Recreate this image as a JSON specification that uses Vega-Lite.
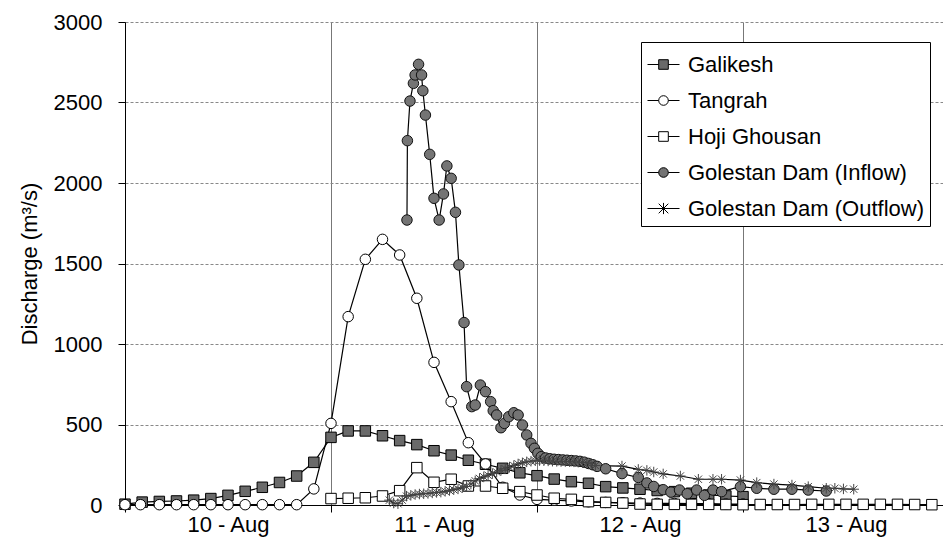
{
  "$schema": "https://vega.github.io/schema/vega-lite/v6.json",
  "width": 818,
  "height": 483,
  "autosize": {"type": "none"},
  "padding": {"left": 125, "top": 22, "right": 0, "bottom": 35},
  "background": "#ffffff",
  "config": {
    "font": "Liberation Sans",
    "view": {"stroke": null},
    "axis": {"labelFont": "Liberation Sans", "titleFont": "Liberation Sans", "labelColor": "#000", "titleColor": "#000"}
  },
  "data": {
    "values": [
      {"s": "Galikesh", "h": 0, "v": 5}, {"s": "Galikesh", "h": 2, "v": 18}, {"s": "Galikesh", "h": 4, "v": 22}, {"s": "Galikesh", "h": 6, "v": 25},
      {"s": "Galikesh", "h": 8, "v": 30}, {"s": "Galikesh", "h": 10, "v": 40}, {"s": "Galikesh", "h": 12, "v": 60}, {"s": "Galikesh", "h": 14, "v": 85},
      {"s": "Galikesh", "h": 16, "v": 110}, {"s": "Galikesh", "h": 18, "v": 140}, {"s": "Galikesh", "h": 20, "v": 180}, {"s": "Galikesh", "h": 22, "v": 265},
      {"s": "Galikesh", "h": 24, "v": 420}, {"s": "Galikesh", "h": 26, "v": 460}, {"s": "Galikesh", "h": 28, "v": 460}, {"s": "Galikesh", "h": 30, "v": 430},
      {"s": "Galikesh", "h": 32, "v": 400}, {"s": "Galikesh", "h": 34, "v": 375}, {"s": "Galikesh", "h": 36, "v": 337}, {"s": "Galikesh", "h": 38, "v": 310},
      {"s": "Galikesh", "h": 40, "v": 278}, {"s": "Galikesh", "h": 42, "v": 253}, {"s": "Galikesh", "h": 44, "v": 228}, {"s": "Galikesh", "h": 46, "v": 200},
      {"s": "Galikesh", "h": 48, "v": 182}, {"s": "Galikesh", "h": 50, "v": 161}, {"s": "Galikesh", "h": 52, "v": 145}, {"s": "Galikesh", "h": 54, "v": 135},
      {"s": "Galikesh", "h": 56, "v": 114}, {"s": "Galikesh", "h": 58, "v": 106}, {"s": "Galikesh", "h": 60, "v": 98}, {"s": "Galikesh", "h": 62, "v": 90},
      {"s": "Galikesh", "h": 64, "v": 83}, {"s": "Galikesh", "h": 66, "v": 73}, {"s": "Galikesh", "h": 68, "v": 62}, {"s": "Galikesh", "h": 70, "v": 56},
      {"s": "Galikesh", "h": 72, "v": 52},

      {"s": "Tangrah", "h": 0, "v": 2}, {"s": "Tangrah", "h": 1.8, "v": 2}, {"s": "Tangrah", "h": 4, "v": 2}, {"s": "Tangrah", "h": 6, "v": 2},
      {"s": "Tangrah", "h": 8, "v": 2}, {"s": "Tangrah", "h": 10, "v": 2}, {"s": "Tangrah", "h": 12, "v": 2}, {"s": "Tangrah", "h": 14, "v": 2},
      {"s": "Tangrah", "h": 16, "v": 2}, {"s": "Tangrah", "h": 18, "v": 2}, {"s": "Tangrah", "h": 20, "v": 2}, {"s": "Tangrah", "h": 22, "v": 100},
      {"s": "Tangrah", "h": 24, "v": 507}, {"s": "Tangrah", "h": 26, "v": 1170}, {"s": "Tangrah", "h": 28, "v": 1526}, {"s": "Tangrah", "h": 30, "v": 1650},
      {"s": "Tangrah", "h": 32, "v": 1553}, {"s": "Tangrah", "h": 34, "v": 1284}, {"s": "Tangrah", "h": 36, "v": 886}, {"s": "Tangrah", "h": 38, "v": 642},
      {"s": "Tangrah", "h": 40, "v": 387}, {"s": "Tangrah", "h": 42, "v": 255}, {"s": "Tangrah", "h": 44, "v": 110}, {"s": "Tangrah", "h": 46, "v": 62},
      {"s": "Tangrah", "h": 48, "v": 35}, {"s": "Tangrah", "h": 50, "v": 30}, {"s": "Tangrah", "h": 52, "v": 25}, {"s": "Tangrah", "h": 54, "v": 20},
      {"s": "Tangrah", "h": 56, "v": 16}, {"s": "Tangrah", "h": 58, "v": 14}, {"s": "Tangrah", "h": 60, "v": 12}, {"s": "Tangrah", "h": 62, "v": 10},
      {"s": "Tangrah", "h": 64, "v": 10}, {"s": "Tangrah", "h": 66, "v": 8}, {"s": "Tangrah", "h": 68, "v": 8}, {"s": "Tangrah", "h": 70, "v": 6},
      {"s": "Tangrah", "h": 72, "v": 6},

      {"s": "Hoji Ghousan", "h": 24, "v": 40}, {"s": "Hoji Ghousan", "h": 26, "v": 42}, {"s": "Hoji Ghousan", "h": 28, "v": 45}, {"s": "Hoji Ghousan", "h": 30, "v": 56},
      {"s": "Hoji Ghousan", "h": 32, "v": 89}, {"s": "Hoji Ghousan", "h": 34, "v": 232}, {"s": "Hoji Ghousan", "h": 36, "v": 141}, {"s": "Hoji Ghousan", "h": 38, "v": 160},
      {"s": "Hoji Ghousan", "h": 40, "v": 118}, {"s": "Hoji Ghousan", "h": 42, "v": 118}, {"s": "Hoji Ghousan", "h": 44, "v": 104}, {"s": "Hoji Ghousan", "h": 46, "v": 83},
      {"s": "Hoji Ghousan", "h": 48, "v": 62}, {"s": "Hoji Ghousan", "h": 50, "v": 42}, {"s": "Hoji Ghousan", "h": 52, "v": 35}, {"s": "Hoji Ghousan", "h": 54, "v": 21},
      {"s": "Hoji Ghousan", "h": 56, "v": 16}, {"s": "Hoji Ghousan", "h": 58, "v": 12}, {"s": "Hoji Ghousan", "h": 60, "v": 6}, {"s": "Hoji Ghousan", "h": 62, "v": 4},
      {"s": "Hoji Ghousan", "h": 64, "v": 4}, {"s": "Hoji Ghousan", "h": 66, "v": 4}, {"s": "Hoji Ghousan", "h": 68, "v": 4}, {"s": "Hoji Ghousan", "h": 70, "v": 3},
      {"s": "Hoji Ghousan", "h": 72, "v": 2}, {"s": "Hoji Ghousan", "h": 74, "v": 3}, {"s": "Hoji Ghousan", "h": 76, "v": 3}, {"s": "Hoji Ghousan", "h": 78, "v": 3},
      {"s": "Hoji Ghousan", "h": 80, "v": 4}, {"s": "Hoji Ghousan", "h": 82, "v": 4}, {"s": "Hoji Ghousan", "h": 84, "v": 4}, {"s": "Hoji Ghousan", "h": 86, "v": 4},
      {"s": "Hoji Ghousan", "h": 88, "v": 4}, {"s": "Hoji Ghousan", "h": 90, "v": 4}, {"s": "Hoji Ghousan", "h": 92, "v": 3}, {"s": "Hoji Ghousan", "h": 94, "v": 2},

      {"s": "Golestan Dam (Inflow)", "h": 32.85, "v": 1770}, {"s": "Golestan Dam (Inflow)", "h": 32.9, "v": 2263}, {"s": "Golestan Dam (Inflow)", "h": 33.2, "v": 2509},
      {"s": "Golestan Dam (Inflow)", "h": 33.6, "v": 2619}, {"s": "Golestan Dam (Inflow)", "h": 33.8, "v": 2671}, {"s": "Golestan Dam (Inflow)", "h": 34.2, "v": 2737},
      {"s": "Golestan Dam (Inflow)", "h": 34.55, "v": 2671}, {"s": "Golestan Dam (Inflow)", "h": 34.7, "v": 2573}, {"s": "Golestan Dam (Inflow)", "h": 35, "v": 2422},
      {"s": "Golestan Dam (Inflow)", "h": 35.5, "v": 2178}, {"s": "Golestan Dam (Inflow)", "h": 36, "v": 1905}, {"s": "Golestan Dam (Inflow)", "h": 36.6, "v": 1770},
      {"s": "Golestan Dam (Inflow)", "h": 37.1, "v": 1932}, {"s": "Golestan Dam (Inflow)", "h": 37.5, "v": 2106}, {"s": "Golestan Dam (Inflow)", "h": 38, "v": 2029},
      {"s": "Golestan Dam (Inflow)", "h": 38.5, "v": 1818}, {"s": "Golestan Dam (Inflow)", "h": 38.9, "v": 1491}, {"s": "Golestan Dam (Inflow)", "h": 39.5, "v": 1133},
      {"s": "Golestan Dam (Inflow)", "h": 39.8, "v": 735}, {"s": "Golestan Dam (Inflow)", "h": 40.4, "v": 611}, {"s": "Golestan Dam (Inflow)", "h": 40.8, "v": 621},
      {"s": "Golestan Dam (Inflow)", "h": 41.4, "v": 745}, {"s": "Golestan Dam (Inflow)", "h": 42, "v": 704}, {"s": "Golestan Dam (Inflow)", "h": 42.6, "v": 642},
      {"s": "Golestan Dam (Inflow)", "h": 42.9, "v": 586}, {"s": "Golestan Dam (Inflow)", "h": 43.3, "v": 559}, {"s": "Golestan Dam (Inflow)", "h": 43.8, "v": 480},
      {"s": "Golestan Dam (Inflow)", "h": 44.2, "v": 507}, {"s": "Golestan Dam (Inflow)", "h": 44.7, "v": 548}, {"s": "Golestan Dam (Inflow)", "h": 45.3, "v": 573},
      {"s": "Golestan Dam (Inflow)", "h": 45.8, "v": 559}, {"s": "Golestan Dam (Inflow)", "h": 46.3, "v": 497}, {"s": "Golestan Dam (Inflow)", "h": 46.8, "v": 435},
      {"s": "Golestan Dam (Inflow)", "h": 47.3, "v": 383}, {"s": "Golestan Dam (Inflow)", "h": 47.7, "v": 352}, {"s": "Golestan Dam (Inflow)", "h": 48.1, "v": 321},
      {"s": "Golestan Dam (Inflow)", "h": 48.5, "v": 300}, {"s": "Golestan Dam (Inflow)", "h": 49, "v": 292}, {"s": "Golestan Dam (Inflow)", "h": 49.5, "v": 287},
      {"s": "Golestan Dam (Inflow)", "h": 50, "v": 284}, {"s": "Golestan Dam (Inflow)", "h": 50.5, "v": 282}, {"s": "Golestan Dam (Inflow)", "h": 51, "v": 280},
      {"s": "Golestan Dam (Inflow)", "h": 51.5, "v": 278}, {"s": "Golestan Dam (Inflow)", "h": 52, "v": 276}, {"s": "Golestan Dam (Inflow)", "h": 52.5, "v": 274},
      {"s": "Golestan Dam (Inflow)", "h": 53, "v": 271}, {"s": "Golestan Dam (Inflow)", "h": 53.5, "v": 266}, {"s": "Golestan Dam (Inflow)", "h": 54, "v": 258},
      {"s": "Golestan Dam (Inflow)", "h": 54.5, "v": 250}, {"s": "Golestan Dam (Inflow)", "h": 55, "v": 240}, {"s": "Golestan Dam (Inflow)", "h": 56, "v": 225},
      {"s": "Golestan Dam (Inflow)", "h": 57.9, "v": 195}, {"s": "Golestan Dam (Inflow)", "h": 59.8, "v": 171}, {"s": "Golestan Dam (Inflow)", "h": 60.8, "v": 137},
      {"s": "Golestan Dam (Inflow)", "h": 61.6, "v": 115}, {"s": "Golestan Dam (Inflow)", "h": 62.7, "v": 95}, {"s": "Golestan Dam (Inflow)", "h": 63.6, "v": 80},
      {"s": "Golestan Dam (Inflow)", "h": 64.6, "v": 93}, {"s": "Golestan Dam (Inflow)", "h": 65.5, "v": 70}, {"s": "Golestan Dam (Inflow)", "h": 66.6, "v": 93},
      {"s": "Golestan Dam (Inflow)", "h": 67.5, "v": 60}, {"s": "Golestan Dam (Inflow)", "h": 68.5, "v": 93}, {"s": "Golestan Dam (Inflow)", "h": 69.5, "v": 83},
      {"s": "Golestan Dam (Inflow)", "h": 71.7, "v": 114}, {"s": "Golestan Dam (Inflow)", "h": 73.6, "v": 104}, {"s": "Golestan Dam (Inflow)", "h": 75.6, "v": 98},
      {"s": "Golestan Dam (Inflow)", "h": 77.7, "v": 98}, {"s": "Golestan Dam (Inflow)", "h": 79.6, "v": 93}, {"s": "Golestan Dam (Inflow)", "h": 81.7, "v": 87},

      {"s": "Golestan Dam (Outflow)", "h": 30.8, "v": 30}, {"s": "Golestan Dam (Outflow)", "h": 31.3, "v": 12}, {"s": "Golestan Dam (Outflow)", "h": 31.8, "v": 8},
      {"s": "Golestan Dam (Outflow)", "h": 32.3, "v": 30}, {"s": "Golestan Dam (Outflow)", "h": 32.8, "v": 55}, {"s": "Golestan Dam (Outflow)", "h": 33.3, "v": 60},
      {"s": "Golestan Dam (Outflow)", "h": 33.8, "v": 65}, {"s": "Golestan Dam (Outflow)", "h": 34.3, "v": 68}, {"s": "Golestan Dam (Outflow)", "h": 34.8, "v": 70},
      {"s": "Golestan Dam (Outflow)", "h": 35.3, "v": 72}, {"s": "Golestan Dam (Outflow)", "h": 35.8, "v": 75}, {"s": "Golestan Dam (Outflow)", "h": 36.3, "v": 78},
      {"s": "Golestan Dam (Outflow)", "h": 36.8, "v": 80}, {"s": "Golestan Dam (Outflow)", "h": 37.3, "v": 85}, {"s": "Golestan Dam (Outflow)", "h": 37.8, "v": 90},
      {"s": "Golestan Dam (Outflow)", "h": 38.3, "v": 95}, {"s": "Golestan Dam (Outflow)", "h": 38.8, "v": 100}, {"s": "Golestan Dam (Outflow)", "h": 39.3, "v": 108},
      {"s": "Golestan Dam (Outflow)", "h": 39.8, "v": 115}, {"s": "Golestan Dam (Outflow)", "h": 40.3, "v": 130}, {"s": "Golestan Dam (Outflow)", "h": 40.8, "v": 150},
      {"s": "Golestan Dam (Outflow)", "h": 41.3, "v": 165}, {"s": "Golestan Dam (Outflow)", "h": 41.8, "v": 175}, {"s": "Golestan Dam (Outflow)", "h": 42.3, "v": 185},
      {"s": "Golestan Dam (Outflow)", "h": 42.8, "v": 195}, {"s": "Golestan Dam (Outflow)", "h": 43.3, "v": 205}, {"s": "Golestan Dam (Outflow)", "h": 43.8, "v": 215},
      {"s": "Golestan Dam (Outflow)", "h": 44.3, "v": 225}, {"s": "Golestan Dam (Outflow)", "h": 44.8, "v": 235}, {"s": "Golestan Dam (Outflow)", "h": 45.3, "v": 245},
      {"s": "Golestan Dam (Outflow)", "h": 45.8, "v": 255}, {"s": "Golestan Dam (Outflow)", "h": 46.3, "v": 262}, {"s": "Golestan Dam (Outflow)", "h": 46.8, "v": 268},
      {"s": "Golestan Dam (Outflow)", "h": 47.3, "v": 272}, {"s": "Golestan Dam (Outflow)", "h": 47.8, "v": 275}, {"s": "Golestan Dam (Outflow)", "h": 48.3, "v": 276},
      {"s": "Golestan Dam (Outflow)", "h": 48.8, "v": 275}, {"s": "Golestan Dam (Outflow)", "h": 49.3, "v": 274}, {"s": "Golestan Dam (Outflow)", "h": 49.8, "v": 272},
      {"s": "Golestan Dam (Outflow)", "h": 50.3, "v": 271}, {"s": "Golestan Dam (Outflow)", "h": 50.8, "v": 270}, {"s": "Golestan Dam (Outflow)", "h": 51.3, "v": 270},
      {"s": "Golestan Dam (Outflow)", "h": 51.8, "v": 269}, {"s": "Golestan Dam (Outflow)", "h": 52.3, "v": 268}, {"s": "Golestan Dam (Outflow)", "h": 52.8, "v": 266},
      {"s": "Golestan Dam (Outflow)", "h": 53.3, "v": 264}, {"s": "Golestan Dam (Outflow)", "h": 53.8, "v": 262}, {"s": "Golestan Dam (Outflow)", "h": 54.3, "v": 258},
      {"s": "Golestan Dam (Outflow)", "h": 54.8, "v": 245}, {"s": "Golestan Dam (Outflow)", "h": 57.9, "v": 242}, {"s": "Golestan Dam (Outflow)", "h": 59.8, "v": 221},
      {"s": "Golestan Dam (Outflow)", "h": 60.8, "v": 215}, {"s": "Golestan Dam (Outflow)", "h": 61.6, "v": 205}, {"s": "Golestan Dam (Outflow)", "h": 62.7, "v": 193},
      {"s": "Golestan Dam (Outflow)", "h": 64.7, "v": 180}, {"s": "Golestan Dam (Outflow)", "h": 66.8, "v": 160}, {"s": "Golestan Dam (Outflow)", "h": 68.5, "v": 160},
      {"s": "Golestan Dam (Outflow)", "h": 69.5, "v": 160}, {"s": "Golestan Dam (Outflow)", "h": 71.7, "v": 155}, {"s": "Golestan Dam (Outflow)", "h": 73.6, "v": 139},
      {"s": "Golestan Dam (Outflow)", "h": 75.6, "v": 130}, {"s": "Golestan Dam (Outflow)", "h": 77.7, "v": 124}, {"s": "Golestan Dam (Outflow)", "h": 79.6, "v": 114},
      {"s": "Golestan Dam (Outflow)", "h": 81.7, "v": 104}, {"s": "Golestan Dam (Outflow)", "h": 82.7, "v": 104}, {"s": "Golestan Dam (Outflow)", "h": 83.7, "v": 100},
      {"s": "Golestan Dam (Outflow)", "h": 84.9, "v": 98}
    ]
  },
  "encoding": {
    "x": {
      "field": "h", "type": "quantitative",
      "scale": {"domain": [0, 95.3], "nice": false, "zero": false},
      "axis": {
        "title": null, "values": [0, 24, 48, 72],
        "labelExpr": "datum.value == 0 ? '10 - Aug' : datum.value == 24 ? '11 - Aug' : datum.value == 48 ? '12 - Aug' : '13 - Aug'",
        "labelOffset": 103, "labelFlush": false, "labelFontSize": 22, "labelPadding": 2,
        "tickSize": 7, "tickColor": "#000", "domainColor": "#000",
        "grid": true, "gridColor": "#777", "gridWidth": 1
      }
    },
    "y": {
      "field": "v", "type": "quantitative",
      "scale": {"domain": [0, 3000], "nice": false},
      "axis": {
        "title": "Discharge (m³/s)", "titleFontSize": 22, "titleFontWeight": "normal", "titlePadding": 12,
        "values": [0, 500, 1000, 1500, 2000, 2500, 3000], "format": "d",
        "labelFontSize": 22, "labelPadding": 16, "tickSize": 7, "tickColor": "#000", "domainColor": "#000",
        "grid": true, "gridColor": "#888", "gridDash": [3, 2]
      }
    }
  },
  "layer": [
    {
      "mark": {"type": "line", "color": "#000", "strokeWidth": 1.2},
      "encoding": {"detail": {"field": "s"}}
    },
    {
      "mark": {"type": "point", "filled": false, "strokeWidth": 1, "size": 110, "opacity": 1},
      "encoding": {
        "shape": {
          "field": "s", "type": "nominal", "legend": null,
          "scale": {
            "domain": ["Galikesh", "Tangrah", "Hoji Ghousan", "Golestan Dam (Inflow)", "Golestan Dam (Outflow)"],
            "range": ["square", "circle", "square", "circle", "M-1,0H1M0,-1V1M-0.7,-0.7L0.7,0.7M-0.7,0.7L0.7,-0.7"]
          }
        },
        "fill": {
          "field": "s", "type": "nominal", "legend": null,
          "scale": {
            "domain": ["Galikesh", "Tangrah", "Hoji Ghousan", "Golestan Dam (Inflow)", "Golestan Dam (Outflow)"],
            "range": ["#6a6a6a", "#ffffff", "#ffffff", "#747474", "#555555"]
          }
        },
        "stroke": {
          "field": "s", "type": "nominal", "legend": null,
          "scale": {
            "domain": ["Galikesh", "Tangrah", "Hoji Ghousan", "Golestan Dam (Inflow)", "Golestan Dam (Outflow)"],
            "range": ["#000000", "#000000", "#000000", "#111111", "#444444"]
          }
        }
      }
    },
    {
      "transform": [{"filter": "datum.h < -1000"}],
      "mark": {"type": "point", "filled": false, "strokeWidth": 1, "size": 1024, "opacity": 1},
      "encoding": {
        "shape": {
          "field": "s", "type": "nominal",
          "scale": {
            "domain": ["Galikesh", "Tangrah", "Hoji Ghousan", "Golestan Dam (Inflow)", "Golestan Dam (Outflow)"],
            "range": [
              "M-1,0H-0.3M0.3,0H1M-0.3,-0.3H0.3V0.3H-0.3Z",
              "M-1,0H-0.3M0.3,0H1M0.3,0A0.3,0.3 0 1,1 -0.3,0A0.3,0.3 0 1,1 0.3,0Z",
              "M-1,0H-0.3M0.3,0H1M-0.3,-0.3H0.3V0.3H-0.3Z",
              "M-1,0H-0.3M0.3,0H1M0.3,0A0.3,0.3 0 1,1 -0.3,0A0.3,0.3 0 1,1 0.3,0Z",
              "M-1,0H1M0,-0.35V0.35M-0.3,-0.3L0.3,0.3M-0.3,0.3L0.3,-0.3"
            ]
          },
          "legend": {
            "title": null, "orient": "none", "legendX": 516, "legendY": 20,
            "labelFontSize": 22, "labelColor": "#000", "labelFont": "Liberation Sans", "labelLimit": 400,
            "symbolSize": 1024, "symbolStrokeWidth": 1, "rowPadding": 8, "padding": 6, "labelOffset": 8,
            "strokeColor": "#000", "fillColor": "#fff"
          }
        },
        "fill": {
          "field": "s", "type": "nominal",
          "scale": {
            "domain": ["Galikesh", "Tangrah", "Hoji Ghousan", "Golestan Dam (Inflow)", "Golestan Dam (Outflow)"],
            "range": ["#6a6a6a", "#ffffff", "#ffffff", "#747474", "#555555"]
          }
        },
        "stroke": {
          "field": "s", "type": "nominal",
          "scale": {
            "domain": ["Galikesh", "Tangrah", "Hoji Ghousan", "Golestan Dam (Inflow)", "Golestan Dam (Outflow)"],
            "range": ["#000000", "#000000", "#000000", "#000000", "#000000"]
          }
        }
      }
    }
  ],
  "resolve": {
    "scale": {"shape": "independent", "fill": "independent", "stroke": "independent"},
    "legend": {"shape": "independent", "fill": "independent", "stroke": "independent"}
  }
}
